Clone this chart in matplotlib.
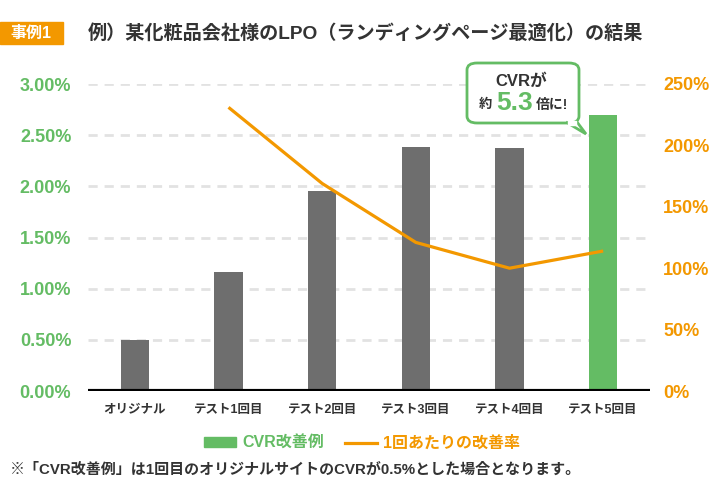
import matplotlib
matplotlib.use('Agg')
import matplotlib.pyplot as plt
import matplotlib.patches as mpatches
from matplotlib.lines import Line2D
from matplotlib.patches import FancyBboxPatch, Polygon

plt.rcParams['font.family'] = ['Liberation Sans', 'Noto Sans CJK JP', 'DejaVu Sans']

# data
categories = ['オリジナル', 'テスト1回目', 'テスト2回目', 'テスト3回目', 'テスト4回目', 'テスト5回目']
cvr = [0.50, 1.16, 1.95, 2.38, 2.37, 2.70]          # % (left axis)
improve = [None, 231, 169, 121, 100, 114]            # % (right axis)
left_ticks = [0, 0.5, 1.0, 1.5, 2.0, 2.5, 3.0]
right_ticks = [0, 50, 100, 150, 200, 250]

GRAY = '#6e6e6e'
GREEN = '#64bc64'
ORANGE = '#f39800'
DARK = '#333333'

fig = plt.figure(figsize=(7.2, 4.94), dpi=100)
ax = fig.add_axes([88 / 720, 103 / 494, 562 / 720, 307 / 494])
ax2 = ax.twinx()

x = list(range(len(categories)))
colors = [GRAY] * (len(categories) - 1) + [GREEN]
ax.bar(x, cvr, width=0.30, color=colors, zorder=3)

lx = [i for i, v in zip(x, improve) if v is not None]
ly = [v for v in improve if v is not None]
ax2.plot(lx, ly, color=ORANGE, lw=2.3, zorder=4, solid_capstyle='butt')

ax.set_xlim(-0.5, 5.5)
ax.set_ylim(0, 3.0)
ax2.set_ylim(0, 250)

ax.set_yticks(left_ticks)
ax.set_yticklabels(['%.2f%%' % t for t in left_ticks])
ax2.set_yticks(right_ticks)
ax2.set_yticklabels(['%d%%' % t for t in right_ticks])
ax.set_xticks(x)
ax.set_xticklabels(categories)

for t in left_ticks[1:]:
    ax.axhline(t, color='#e2e2e2', lw=2, ls=(0, (3.3, 2.5)), zorder=1)
ax.axhline(0, color='black', lw=3, zorder=5)

for a in (ax, ax2):
    for s in a.spines.values():
        s.set_visible(False)
ax.tick_params(axis='y', length=0, pad=12, labelsize=13, labelcolor=GREEN)
ax2.tick_params(axis='y', length=0, pad=9.5, labelsize=13, labelcolor=ORANGE)
ax.tick_params(axis='x', length=0, pad=9, labelsize=9, labelcolor=DARK)
for lab in ax.get_yticklabels() + ax2.get_yticklabels():
    lab.set_fontweight('bold')
for lab in ax.get_xticklabels():
    lab.set_fontweight('bold')

# title + badge
fig.patches.append(mpatches.Rectangle((0, 450 / 494), 63 / 720, 22 / 494,
                                      transform=fig.transFigure, color=ORANGE))
fig.text(31 / 720, 461 / 494, '事例1', color='white', fontsize=11.5,
         fontweight='bold', ha='center', va='center')
fig.text(88 / 720, 461 / 494, '例）某化粧品会社様のLPO（ランディングページ最適化）の結果',
         color=DARK, fontsize=13.8, fontweight='bold', ha='left', va='center')

# balloon
bx0, bx1, by0, by1 = 467, 579, 371, 431
ball = FancyBboxPatch((bx0 / 720, by0 / 494), (bx1 - bx0) / 720, (by1 - by0) / 494,
                      boxstyle='round,pad=0,rounding_size=0.014',
                      transform=fig.transFigure, fc='white', ec=GREEN, lw=2, zorder=10)
fig.patches.append(ball)
tail = Polygon([(566 / 720, 372 / 494), (586 / 720, 360 / 494), (577 / 720, 372 / 494)],
               closed=False, transform=fig.transFigure, fc='white', ec=GREEN, lw=2,
               zorder=11)
fig.patches.append(tail)
fig.patches.append(mpatches.Rectangle((568 / 720, 369 / 494), 8 / 720, 4 / 494,
                                      transform=fig.transFigure, color='white', zorder=12))
fig.text(521 / 720, 413 / 494, 'CVRが', color=DARK, fontsize=12, fontweight='bold',
         ha='center', va='center', zorder=13)
fig.text(485 / 720, 389 / 494, '約', color=DARK, fontsize=9.5, fontweight='bold',
         ha='center', va='center', zorder=13)
fig.text(515 / 720, 391 / 494, '5.3', color=GREEN, fontsize=19, fontweight='bold',
         ha='center', va='center', zorder=13)
fig.text(552 / 720, 389 / 494, '倍に!', color=DARK, fontsize=10, fontweight='bold',
         ha='center', va='center', zorder=13)

# legend
handles = [mpatches.Patch(color=GREEN, label='CVR改善例'),
           Line2D([], [], color=ORANGE, lw=2.3, label='1回あたりの改善率')]
leg = fig.legend(handles=handles, loc='center', bbox_to_anchor=(362 / 720, 51 / 494),
                 ncol=2, frameon=False, handlelength=2.0, handleheight=0.5,
                 columnspacing=1.3, handletextpad=0.4,
                 prop={'size': 11.5, 'weight': 'bold'})
for txt, c in zip(leg.get_texts(), [GREEN, ORANGE]):
    txt.set_color(c)

fig.text(10 / 720, 24 / 494,
         '※「CVR改善例」は1回目のオリジナルサイトのCVRが0.5%とした場合となります。',
         color=DARK, fontsize=10.8, fontweight='bold', ha='left', va='center')

fig.savefig('out.png', dpi=100)
